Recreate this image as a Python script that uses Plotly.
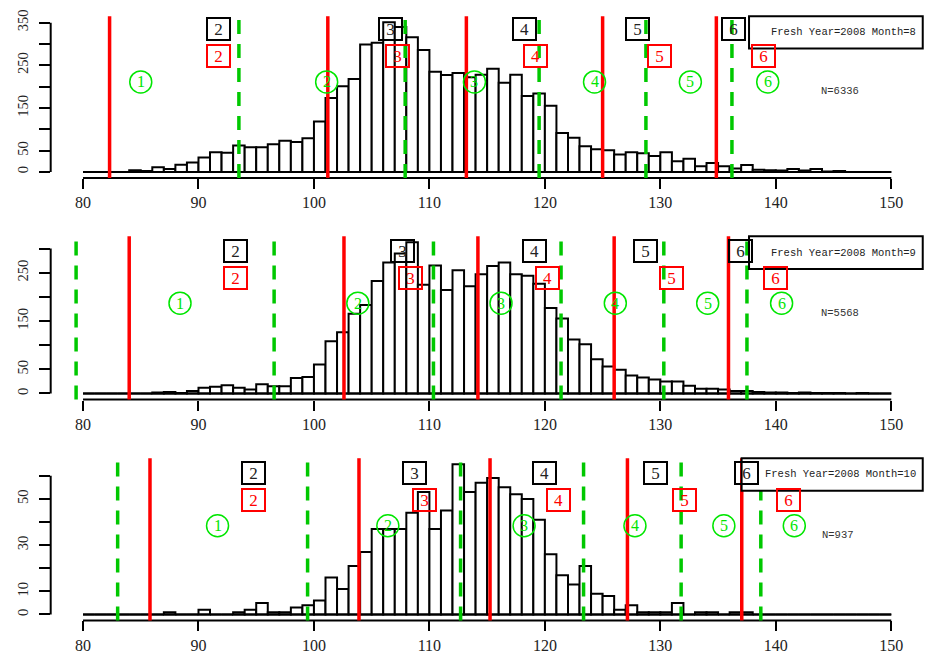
import plotly.graph_objects as go

# ---------------- data ----------------
bin_edges = list(range(80, 151))  # 1-unit bins from 80 to 150

counts_aug = [0,0,0,0, 4,2,11,7,17,22,34,46,45,62,58,58,65,73,70,79,
              118,173,201,218,299,303,351,340,316,286,
              235,227,232,222,228,242,209,228,178,184,
              155,91,80,60,53,51,41,46,44,37,
              46,25,31,13,21,13,8,16,5,4,3,7,3,7,1,2, 0,0,0,0]
counts_sep = [0,0,0,0,0,0, 2,3,1,5,12,14,17,12,8,19,15,15,32,34,
              60,108,127,165,183,233,271,290,313,225,
              265,214,255,222,247,264,271,247,244,227,
              177,155,112,102,71,56,49,37,33,29,
              25,25,16,10,10,8,5,5,3,2,2,1,2,1,1,1,0,1, 0,0]
counts_oct = [0,0,0,0,0,0,0, 1,0,0,2,0,0,1,2,5,1,1,3,4,
              6,16,11,21,27,37,37,37,44,53,
              37,45,65,53,57,59,55,52,50,41,
              26,17,13,21,9,8,2,4,1,1,
              1,5,0,1,1,0,1,1,0,0,
              0,0,0,0,0,0,0,0,0,0]

red_aug = [82.3, 101.2, 113.2, 125.0, 134.85]
green_aug = [93.5, 107.9, 119.5, 128.75, 136.2]
red_sep = [84.0, 102.6, 114.2, 126.0, 135.9]
green_sep = [79.4, 96.55, 110.35, 121.4, 130.3, 137.5]
red_oct = [85.8, 103.9, 115.25, 127.15, 137.05]
green_oct = [83.0, 99.45, 112.7, 123.35, 131.8, 138.7]

box_digits = ["2", "3", "4", "5", "6"]
circle_digits = ["1", "2", "3", "4", "5", "6"]

black_x_aug = [91.7, 106.6, 118.2, 128.0, 136.3]
red_x_aug = [91.7, 107.2, 119.2, 129.9, 138.9]
circ_x_aug = [85.0, 101.1, 113.9, 124.3, 132.6, 139.3]
label_y_aug = [336, 271, 211, 190]   # black box, red box, circle, N

black_x_sep = [93.2, 107.7, 119.1, 128.7, 136.9]
red_x_sep = [93.2, 108.4, 120.2, 131.0, 140.0]
circ_x_sep = [88.4, 103.8, 116.2, 126.1, 134.1, 140.5]
label_y_sep = [296, 240, 187, 167]

black_x_oct = [94.8, 108.7, 120.0, 129.55, 137.5]
red_x_oct = [94.8, 109.55, 121.2, 132.1, 141.1]
circ_x_oct = [91.65, 106.4, 118.2, 127.8, 135.5, 141.6]
label_y_oct = [61.3, 49.5, 38.4, 34.5]

n_x = [145.6, 145.6, 145.4]
n_text = ["N=6336", "N=5568", "N=937"]
legend_text = ["Fresh Year=2008 Month=8", "Fresh Year=2008 Month=9", "Fresh Year=2008 Month=10"]

ytick_vals = [[0, 50, 100, 150, 200, 250, 300, 350],
              [0, 50, 100, 150, 200, 250, 300],
              [0, 10, 20, 30, 40, 50, 60]]
ytick_text = [["0", "50", "", "150", "", "250", "", "350"],
              ["0", "50", "", "150", "", "250", ""],
              ["0", "10", "", "30", "", "50", ""]]
xtick_vals = [80, 90, 100, 110, 120, 130, 140, 150]

# ---------------- styling ----------------
RED = "#ff0000"
GREEN_LINE = "#00c800"
GREEN_CIRC = "#00e600"
SERIF = "Liberation Serif"
MONO = "Liberation Mono"

panels = [
    dict(counts=counts_aug, red=red_aug, green=green_aug, bx=black_x_aug, rx=red_x_aug,
         cx=circ_x_aug, ly=label_y_aug, dom=[0.7407, 0.9860], legx0=0.800),
    dict(counts=counts_sep, red=red_sep, green=green_sep, bx=black_x_sep, rx=red_x_sep,
         cx=circ_x_sep, ly=label_y_sep, dom=[0.4044, 0.6521], legx0=0.800),
    dict(counts=counts_oct, red=red_oct, green=green_oct, bx=black_x_oct, rx=red_x_oct,
         cx=circ_x_oct, ly=label_y_oct, dom=[0.0691, 0.3153], legx0=0.7915),
]

fig = go.Figure()
shapes = []
annotations = []
layout = dict(width=925, height=666, margin=dict(l=0, r=0, t=0, b=0),
              paper_bgcolor="white", plot_bgcolor="white", showlegend=False)

centers = [e + 0.5 for e in bin_edges[:-1]]

for i, p in enumerate(panels):
    k = "" if i == 0 else str(i + 1)
    xa, ya = "x" + k, "y" + k
    ymax = max(p["counts"])
    fig.add_trace(go.Bar(x=centers, y=p["counts"], width=1.0, xaxis=xa, yaxis=ya,
                         marker=dict(color="white", line=dict(color="black", width=2)),
                         hoverinfo="skip"))
    # zero baseline across all bins
    fig.add_trace(go.Scatter(x=[bin_edges[0], bin_edges[-1]], y=[0, 0], mode="lines",
                             xaxis=xa, yaxis=ya, line=dict(color="black", width=2),
                             hoverinfo="skip"))

    layout["xaxis" + k] = dict(domain=[0.0548, 0.9985], range=[77.2, 152.8], anchor=ya,
                               tickvals=xtick_vals, ticks="outside", ticklen=10, tickwidth=2,
                               tickcolor="black", showline=False, showgrid=False, zeroline=False,
                               ticklabelstandoff=0,
                               tickfont=dict(family=SERIF, size=16, color="#222"))
    layout["yaxis" + k] = dict(domain=p["dom"], range=[-0.04 * ymax, 1.04 * ymax], anchor=xa,
                               tickvals=ytick_vals[i], ticktext=ytick_text[i], tickangle=-90,
                               ticks="outside", ticklen=11, tickwidth=2, tickcolor="black",
                               showline=False, showgrid=False, zeroline=False,
                               ticklabelstandoff=5,
                               tickfont=dict(family=SERIF, size=14.5, color="#222"))

    # axis lines (R style, only spanning tick range)
    shapes.append(dict(type="line", xref=xa, yref=ya + " domain", x0=xtick_vals[0],
                       x1=xtick_vals[-1], y0=0, y1=0, line=dict(color="black", width=2)))
    shapes.append(dict(type="line", xref=xa + " domain", yref=ya, x0=0, x1=0,
                       y0=ytick_vals[i][0], y1=ytick_vals[i][-1], line=dict(color="black", width=2)))

    # vertical lines
    for gx in p["green"]:
        shapes.append(dict(type="line", xref=xa, yref=ya + " domain", x0=gx, x1=gx, y0=0, y1=1,
                           line=dict(color=GREEN_LINE, width=3.5, dash="14px,10px")))
    for rx in p["red"]:
        shapes.append(dict(type="line", xref=xa, yref=ya + " domain", x0=rx, x1=rx, y0=0, y1=1,
                           line=dict(color=RED, width=3.5)))

    # legend box
    shapes.append(dict(type="rect", xref=xa + " domain", yref=ya + " domain",
                       x0=p["legx0"], x1=0.999, y0=0.80, y1=1.0,
                       line=dict(color="black", width=2), fillcolor="white"))
    annotations.append(dict(text=legend_text[i], xref=xa + " domain", yref=ya + " domain",
                            x=0.994, y=0.90, xanchor="right", yanchor="middle", showarrow=False,
                            font=dict(family=MONO, size=10.5, color="#222")))

    # circles
    for d, cx in zip(circle_digits, p["cx"]):
        shapes.append(dict(type="circle", xref=xa, yref=ya, xsizemode="pixel", ysizemode="pixel",
                           xanchor=cx, yanchor=p["ly"][2], x0=-11, x1=11, y0=-11, y1=11,
                           line=dict(color=GREEN_CIRC, width=1.5)))
        annotations.append(dict(text=d, x=cx, y=p["ly"][2], xref=xa, yref=ya, showarrow=False,
                                xanchor="center", yanchor="middle",
                                font=dict(family=SERIF, size=16, color=GREEN_CIRC)))
    # boxes
    for d, bx in zip(box_digits, p["bx"]):
        annotations.append(dict(text=d, x=bx, y=p["ly"][0], xref=xa, yref=ya, showarrow=False,
                                xanchor="center", yanchor="middle", width=18, height=17,
                                bordercolor="black", borderwidth=2, borderpad=1.5,
                                font=dict(family=SERIF, size=17, color="#222")))
    for d, rx in zip(box_digits, p["rx"]):
        annotations.append(dict(text=d, x=rx, y=p["ly"][1], xref=xa, yref=ya, showarrow=False,
                                xanchor="center", yanchor="middle", width=18, height=17,
                                bordercolor=RED, borderwidth=2, borderpad=1.5,
                                font=dict(family=SERIF, size=17, color=RED)))
    annotations.append(dict(text=n_text[i], x=n_x[i], y=p["ly"][3], xref=xa, yref=ya,
                            showarrow=False, xanchor="center", yanchor="middle",
                            font=dict(family=MONO, size=10.5, color="#333")))

layout["shapes"] = shapes
layout["annotations"] = annotations
fig.update_layout(**layout)
fig.write_html("out.html", config={"displayModeBar": False},
               post_script="document.body.style.margin='0';")
